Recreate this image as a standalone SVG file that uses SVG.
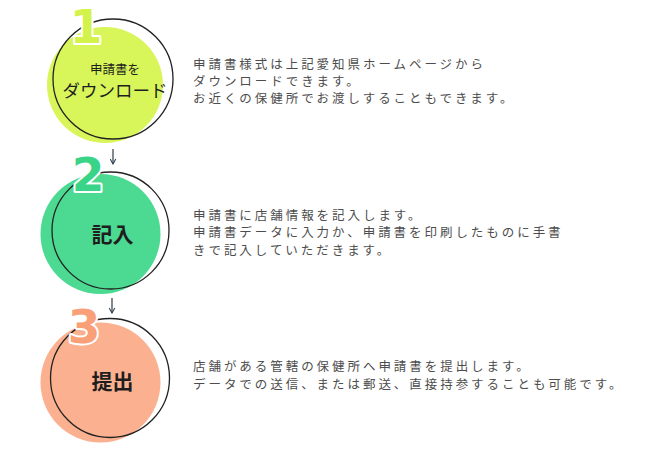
<svg xmlns="http://www.w3.org/2000/svg" width="650" height="451" viewBox="0 0 650 451">
<defs>
<marker id="ah" viewBox="0 0 10 10" refX="9" refY="5" markerWidth="7" markerHeight="7" orient="auto" markerUnits="userSpaceOnUse">
<path d="M2,1 L9,5 L2,9" fill="none" stroke="#2f3b4c" stroke-width="1.5"/>
</marker>
</defs>
<style>
.ring{fill:none;stroke:#222;stroke-width:1.3}
.num{font-family:"DejaVu Sans","Liberation Sans",sans-serif;font-weight:bold;font-size:47px;stroke:#fff;stroke-width:4;paint-order:stroke;stroke-linejoin:round;text-anchor:middle}
.lbl{font-family:"Noto Sans CJK JP","Noto Sans",sans-serif;fill:#1e1e1e;text-anchor:middle}
.desc{font-family:"Noto Sans CJK JP","Noto Sans",sans-serif;font-size:12.5px;fill:#4d4d4d;letter-spacing:2.95px}
.arr{stroke:#2f3b4c;stroke-width:1.2;fill:none}
</style>
<rect width="650" height="451" fill="#fff"/>
<g id="step1">
<circle cx="105" cy="85" r="58" fill="#d8f65a"/>
<circle class="ring" cx="113" cy="79" r="60"/>
<text class="num" x="86" y="43" fill="#d3f24a">1</text>
<text class="lbl" x="115" y="73.5" font-size="12.5">申請書を</text>
<text class="lbl" x="115" y="96.5" font-size="17.5">ダウンロード</text>
</g>
<g id="desc1">
<text class="desc" x="193" y="69">申請書様式は上記愛知県ホームページから</text>
<text class="desc" x="193" y="86">ダウンロードできます。</text>
<text class="desc" x="193" y="103">お近くの保健所でお渡しすることもできます。</text>
</g>
<g id="step2">
<circle cx="100.5" cy="234" r="60" fill="#4cd991"/>
<circle class="ring" cx="110.5" cy="230.5" r="58.5"/>
<text class="num" x="88" y="191" fill="#3ad488">2</text>
<text class="lbl" x="112.5" y="242" font-size="21" font-weight="bold">記入</text>
</g>
<g id="desc2">
<text class="desc" x="193" y="220">申請書に店舗情報を記入します。</text>
<text class="desc" x="193" y="237">申請書データに入力か、申請書を印刷したものに手書</text>
<text class="desc" x="193" y="255">きで記入していただきます。</text>
</g>
<g id="step3">
<circle cx="100.5" cy="382.5" r="60" fill="#fbb18f"/>
<circle class="ring" cx="110" cy="378" r="59.5"/>
<text class="num" x="84" y="343" fill="#f9a078">3</text>
<text class="lbl" x="112.5" y="389" font-size="21" font-weight="bold">提出</text>
</g>
<g id="desc3">
<text class="desc" x="193" y="371">店舗がある管轄の保健所へ申請書を提出します。</text>
<text class="desc" x="193" y="389">データでの送信、または郵送、直接持参することも可能です。</text>
</g>
<g id="connectors">
<line class="arr" x1="113" y1="149" x2="113" y2="164" marker-end="url(#ah)"/>
<line class="arr" x1="112" y1="298" x2="112" y2="313" marker-end="url(#ah)"/>
</g>
</svg>
